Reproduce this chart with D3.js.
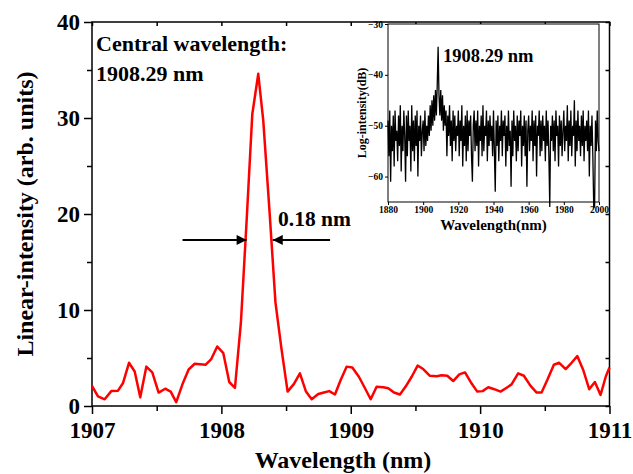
<!DOCTYPE html>
<html>
<head>
<meta charset="utf-8">
<script src="https://cdn.jsdelivr.net/npm/d3@7"></script>
<style>
  body { margin: 0; background: #fff; }
  svg text { font-family: 'Liberation Serif', 'Times New Roman', serif; font-weight: bold; fill: #000; }
</style>
</head>
<body>
<div id="chart"></div>
<script>
// main spectrum (linear scale)
const wavelengths = [
  1907.000, 1907.046, 1907.098, 1907.149, 1907.201, 1907.240, 1907.286, 1907.330, 1907.373, 1907.420,
  1907.466, 1907.515, 1907.566, 1907.608, 1907.651, 1907.703, 1907.747, 1907.794, 1907.835, 1907.879,
  1907.920, 1907.968, 1908.015, 1908.061, 1908.105, 1908.151, 1908.196, 1908.239, 1908.285, 1908.324,
  1908.372, 1908.418, 1908.464, 1908.512, 1908.561, 1908.607, 1908.654, 1908.698, 1908.749, 1908.793,
  1908.834, 1908.878, 1908.922, 1908.968, 1909.012, 1909.063, 1909.110, 1909.154, 1909.200, 1909.251,
  1909.290, 1909.334, 1909.380, 1909.423, 1909.471, 1909.517, 1909.560, 1909.612, 1909.664, 1909.702,
  1909.746, 1909.792, 1909.839, 1909.883, 1909.929, 1909.978, 1910.019, 1910.063, 1910.109, 1910.158,
  1910.205, 1910.243, 1910.294, 1910.338, 1910.390, 1910.437, 1910.475, 1910.519, 1910.570, 1910.611,
  1910.661, 1910.707, 1910.751, 1910.797, 1910.843, 1910.887, 1910.931, 1910.972, 1911.000
]
const intensity = [
  2.1, 1.0, 0.7, 1.55, 1.6, 2.4, 4.5, 3.6, 0.9, 4.1,
  3.5, 1.4, 1.8, 1.5, 0.4, 2.4, 3.8, 4.4, 4.35, 4.3,
  4.85, 6.2, 5.5, 2.5, 1.9, 8.7, 19.5, 30.4, 34.6, 29.7,
  20.3, 10.8, 6.0, 1.5, 2.3, 3.4, 1.5, 0.7, 1.25, 1.4,
  1.55, 1.2, 2.7, 4.1, 4.0, 3.05, 1.85, 0.7, 2.0, 1.95,
  1.85, 1.4, 1.2, 2.0, 3.05, 4.2, 3.85, 3.15, 3.1, 3.2,
  3.15, 2.6, 3.3, 3.5, 2.45, 1.5, 1.55, 1.95, 1.75, 1.5,
  1.9, 2.25, 3.4, 3.15, 2.1, 1.4, 1.4, 2.7, 4.3, 4.5,
  3.85, 4.5, 5.2, 3.75, 1.75, 2.5, 1.15, 3.1, 4.0
]
const xTicks = [1907, 1908, 1909, 1910, 1911]
const yTicks = [0, 10, 20, 30, 40]

// inset spectrum (log scale), 1880-2000 nm every 0.5 nm
const insetStart = 1880
const insetStep = 0.5
const insetDb = [
  -49, -56, -47, -61, -50, -55, -48, -58, -47, -53, -51, -57, -48, -54, -46, -59, -50, -55, -47, -52,
  -61, -48, -56, -47, -53, -50, -59, -46, -55, -49, -57, -48, -54, -47, -60, -50, -53, -48, -56, -51,
  -49, -55, -47, -54, -50, -53, -48, -52, -46, -51, -45, -50, -44, -49, -43, -48, -42, -34.5, -44, -48,
  -43, -49, -44, -51, -46, -50, -47, -56, -48, -52, -46, -54, -49, -57, -47, -53, -48, -55, -50, -52,
  -47, -56, -49, -53, -46, -58, -50, -54, -48, -57, -47, -55, -49, -52, -48, -56, -61, -50, -47, -55,
  -49, -54, -47, -58, -50, -53, -48, -56, -46, -55, -50, -52, -47, -57, -49, -54, -48, -53, -50, -56,
  -47, -55, -63, -49, -54, -48, -57, -50, -53, -47, -56, -49, -52, -48, -58, -50, -55, -47, -54, -51,
  -62, -49, -56, -47, -53, -50, -57, -48, -55, -49, -52, -47, -58, -50, -54, -48, -56, -49, -62, -51,
  -48, -55, -50, -53, -47, -57, -49, -54, -48, -60, -50, -52, -47, -56, -49, -55, -48, -53, -50, -57,
  -47, -54, -49, -56, -66, -50, -53, -48, -55, -49, -57, -47, -52, -50, -58, -48, -54, -49, -56, -51,
  -47, -55, -50, -53, -46, -57, -49, -54, -47, -56, -50, -52, -45, -58, -49, -55, -47, -53, -50, -56,
  -48, -54, -47, -57, -50, -53, -49, -55, -47, -60, -50, -54, -48, -56, -66, -66, -49, -55, -47, -53,
  -55
]
const insetXTicks = [1880, 1900, 1920, 1940, 1960, 1980, 2000]
const insetYTicks = [-30, -40, -50, -60]

const width = 633
const height = 474
const margin = { left: 92, right: 23.5, top: 22, bottom: 68 }

const svg = d3.select('#chart').append('svg')
  .attr('width', width)
  .attr('height', height)

const x = d3.scaleLinear().domain([1907, 1911]).range([margin.left, width - margin.right])
const y = d3.scaleLinear().domain([0, 40]).range([height - margin.bottom, margin.top])

// frame
svg.append('rect')
  .attr('x', x(1907)).attr('y', y(40))
  .attr('width', x(1911) - x(1907)).attr('height', y(0) - y(40))
  .attr('fill', 'none').attr('stroke', '#000').attr('stroke-width', 1.5)

// minor ticks
const xMinor = d3.range(1907.5, 1911, 1)
const yMinor = d3.range(5, 40, 10)

function styleAxis(g) {
  g.select('.domain').remove()
  g.selectAll('.tick line').attr('stroke', '#000').attr('stroke-width', 1.5)
}

svg.append('g')
  .attr('transform', `translate(0,${y(0)})`)
  .call(d3.axisBottom(x).tickValues(xTicks).tickFormat(d3.format('d')).tickSize(8).tickPadding(8))
  .call(styleAxis)
  .call(g => g.selectAll('text').attr('font-size', 23))

svg.append('g')
  .attr('transform', `translate(0,${y(0)})`)
  .call(d3.axisBottom(x).tickValues(xMinor).tickFormat('').tickSize(5))
  .call(styleAxis)

svg.append('g')
  .attr('transform', `translate(${x(1907)},0)`)
  .call(d3.axisLeft(y).tickValues(yTicks).tickSize(8).tickPadding(4))
  .call(styleAxis)
  .call(g => g.selectAll('text').attr('font-size', 23).attr('dy', '0.34em'))

svg.append('g')
  .attr('transform', `translate(${x(1907)},0)`)
  .call(d3.axisLeft(y).tickValues(yMinor).tickFormat('').tickSize(5))
  .call(styleAxis)

// mirrored ticks on the right and top, pointing inward
svg.append('g')
  .attr('transform', `translate(${x(1911)},0)`)
  .call(d3.axisRight(y).tickValues(yTicks.concat(yMinor)).tickFormat('').tickSize(-4))
  .call(styleAxis)

svg.append('g')
  .attr('transform', `translate(0,${y(40)})`)
  .call(d3.axisTop(x).tickValues(xTicks.concat(xMinor)).tickFormat('').tickSize(-4))
  .call(styleAxis)

// axis titles
svg.append('text')
  .attr('x', 343)
  .attr('y', 468)
  .attr('text-anchor', 'middle')
  .attr('font-size', 24)
  .text('Wavelength (nm)')

svg.append('text')
  .attr('transform', `translate(33,${(y(0) + y(40)) / 2}) rotate(-90)`)
  .attr('text-anchor', 'middle')
  .attr('font-size', 24)
  .text('Linear-intensity (arb. units)')

// spectrum line
const line = d3.line()
  .x((d, i) => x(wavelengths[i]))
  .y(d => y(d))

svg.append('path')
  .datum(intensity)
  .attr('fill', 'none')
  .attr('stroke', '#ff0000')
  .attr('stroke-width', 2.5)
  .attr('stroke-linejoin', 'round')
  .attr('d', line)

// annotations
svg.append('text').attr('x', 96).attr('y', 51).attr('font-size', 22).text('Central wavelength:')
svg.append('text').attr('x', 96).attr('y', 81).attr('font-size', 22).text('1908.29 nm')

// FWHM arrows
const defs = svg.append('defs')
defs.append('marker')
  .attr('id', 'arrow')
  .attr('viewBox', '0 0 10 10')
  .attr('refX', 10).attr('refY', 5)
  .attr('markerWidth', 7).attr('markerHeight', 5)
  .attr('markerUnits', 'strokeWidth')
  .attr('orient', 'auto')
  .append('path')
  .attr('d', 'M0,0 L10,5 L0,10 z')
  .attr('fill', '#000')

const halfMax = 17.3
svg.append('line')
  .attr('x1', x(1907.7)).attr('x2', x(1908.195))
  .attr('y1', y(halfMax)).attr('y2', y(halfMax))
  .attr('stroke', '#000').attr('stroke-width', 2)
  .attr('marker-end', 'url(#arrow)')

svg.append('line')
  .attr('x1', x(1908.84)).attr('x2', x(1908.397))
  .attr('y1', y(halfMax)).attr('y2', y(halfMax))
  .attr('stroke', '#000').attr('stroke-width', 2)
  .attr('marker-end', 'url(#arrow)')

svg.append('text').attr('x', 278).attr('y', 226).attr('font-size', 21.5).text('0.18 nm')

// inset
const ix = d3.scaleLinear().domain([1880, 2000]).range([388, 599])
const iy = d3.scaleLinear().domain([-65, -30]).range([202, 24])

const inset = svg.append('g')

inset.append('rect')
  .attr('x', ix(1880)).attr('y', iy(-30))
  .attr('width', ix(2000) - ix(1880)).attr('height', iy(-65) - iy(-30))
  .attr('fill', '#fff').attr('stroke', '#000').attr('stroke-width', 1)

const insetLine = d3.line()
  .x((d, i) => ix(insetStart + i * insetStep))
  .y(d => iy(d))

inset.append('path')
  .datum(insetDb)
  .attr('fill', 'none')
  .attr('stroke', '#000')
  .attr('stroke-width', 1.3)
  .attr('d', insetLine)

inset.append('g')
  .attr('transform', `translate(0,${iy(-65)})`)
  .call(d3.axisBottom(ix).tickValues(insetXTicks).tickFormat(d3.format('d')).tickSize(3).tickPadding(1))
  .call(styleAxis)
  .call(g => g.selectAll('.tick line').attr('stroke-width', 1))
  .call(g => g.selectAll('text').attr('font-size', 9.5))

inset.append('g')
  .attr('transform', `translate(${ix(1880)},0)`)
  .call(d3.axisLeft(iy).tickValues(insetYTicks).tickSize(3).tickPadding(2))
  .call(styleAxis)
  .call(g => g.selectAll('.tick line').attr('stroke-width', 1))
  .call(g => g.selectAll('text').attr('font-size', 9.5))

inset.append('text')
  .attr('x', (ix(1880) + ix(2000)) / 2)
  .attr('y', 230)
  .attr('text-anchor', 'middle')
  .attr('font-size', 15)
  .text('Wavelength(nm)')

inset.append('text')
  .attr('transform', `translate(366,${(iy(-30) + iy(-65)) / 2}) rotate(-90)`)
  .attr('text-anchor', 'middle')
  .attr('font-size', 12)
  .text('Log-intensity(dB)')

inset.append('text')
  .attr('x', 443).attr('y', 62)
  .attr('font-size', 18.5)
  .text('1908.29 nm')
</script>
</body>
</html>
